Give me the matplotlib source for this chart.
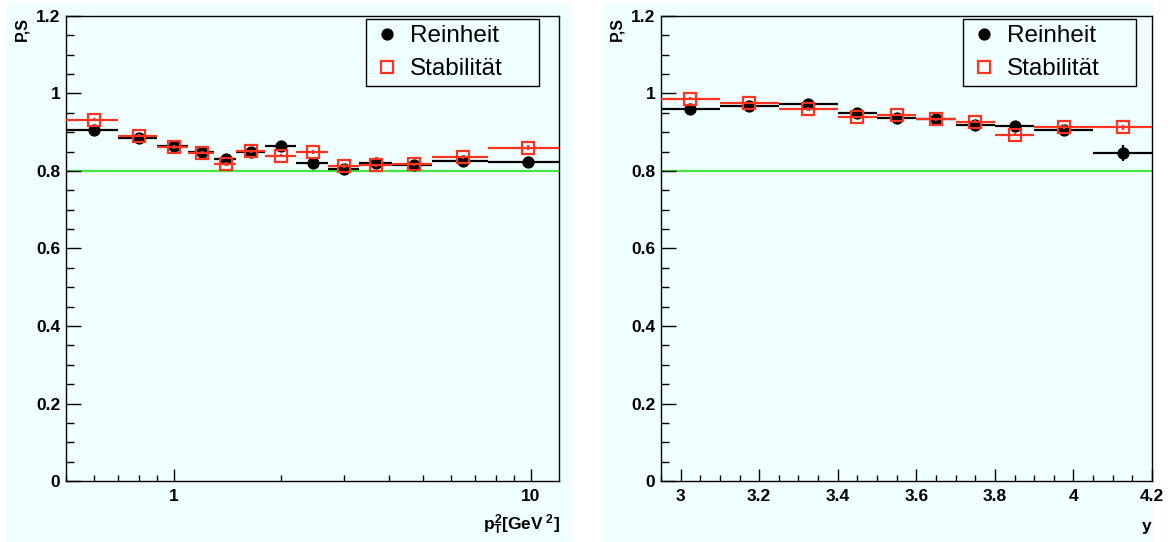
import numpy as np
import matplotlib
matplotlib.use("Agg")
from matplotlib import pyplot as plt
from matplotlib.patches import Rectangle
from matplotlib.lines import Line2D
from matplotlib.ticker import FixedLocator, FormatStrFormatter, MultipleLocator, NullFormatter

plt.rcParams['font.family'] = ['Liberation Sans', 'DejaVu Sans']
plt.rcParams['mathtext.fontset'] = 'custom'
plt.rcParams['mathtext.rm'] = 'Liberation Sans:bold'
plt.rcParams['mathtext.bf'] = 'Liberation Sans:bold'
plt.rcParams['mathtext.it'] = 'Liberation Sans:bold'

# data: purity (Reinheit) and stability (Stabilitaet) per bin
pt2_edges = [0.5, 0.7, 0.9, 1.1, 1.3, 1.5, 1.8, 2.2, 2.7, 3.3, 4.1, 5.3, 7.6, 12.0]
pt2_reinheit = [0.907, 0.885, 0.865, 0.848, 0.831, 0.848, 0.864, 0.821, 0.805, 0.821, 0.815, 0.827, 0.824]
pt2_reinheit_err = [0.004, 0.004, 0.004, 0.004, 0.004, 0.004, 0.004, 0.004, 0.004, 0.004, 0.004, 0.005, 0.006]
pt2_stabil = [0.932, 0.891, 0.862, 0.847, 0.818, 0.851, 0.840, 0.849, 0.813, 0.815, 0.817, 0.835, 0.860]
pt2_stabil_err = [0.004, 0.004, 0.004, 0.004, 0.004, 0.004, 0.004, 0.004, 0.004, 0.004, 0.004, 0.005, 0.006]

y_edges = [2.95, 3.1, 3.25, 3.4, 3.5, 3.6, 3.7, 3.8, 3.9, 4.05, 4.2]
y_reinheit = [0.960, 0.967, 0.974, 0.949, 0.937, 0.935, 0.920, 0.917, 0.906, 0.846]
y_reinheit_err = [0.003, 0.003, 0.003, 0.003, 0.003, 0.003, 0.004, 0.004, 0.005, 0.020]
y_stabil = [0.987, 0.975, 0.961, 0.939, 0.944, 0.933, 0.927, 0.894, 0.913, 0.913]
y_stabil_err = [0.003, 0.003, 0.003, 0.003, 0.003, 0.003, 0.004, 0.004, 0.005, 0.006]

threshold = 0.8

bg = '#f0ffff'
red = '#ff3322'
green = '#40e840'

W, H = 1175, 542
fig = plt.figure(figsize=(W / 100, H / 100), dpi=100, facecolor='white')

# the two pads
fig.patches.append(Rectangle((6 / W, 0), 566 / W, 539 / H, transform=fig.transFigure,
                             facecolor=bg, edgecolor='none', zorder=-10))
fig.patches.append(Rectangle((603 / W, 0), 550 / W, 539 / H, transform=fig.transFigure,
                             facecolor=bg, edgecolor='none', zorder=-10))


def px_axes(x0, x1):
    return [x0 / W, (H - 481) / H, (x1 - x0) / W, (481 - 16) / H]


def draw_panel(ax, edges, reinheit, r_err, stabil, s_err, log):
    edges = np.array(edges)
    lo, hi = edges[:-1], edges[1:]
    xc = (lo + hi) / 2
    ax.set_facecolor(bg)
    ax.axhline(threshold, color=green, lw=1.6, zorder=1)
    ax.errorbar(xc, reinheit, xerr=[xc - lo, hi - xc], yerr=r_err, fmt='o', color='black',
                ms=7.8, elinewidth=1.6, capsize=0, zorder=3)
    ax.errorbar(xc, stabil, xerr=[xc - lo, hi - xc], yerr=s_err, fmt='s', color=red,
                mfc='none', mec=red, ms=9.3, mew=1.6, elinewidth=1.6, capsize=0, zorder=4)
    if log:
        ax.set_xscale('log')
    ax.set_xlim(edges[0], edges[-1])
    ax.set_ylim(0, 1.2)
    ax.yaxis.set_major_locator(MultipleLocator(0.2))
    ax.yaxis.set_minor_locator(MultipleLocator(0.05))
    ax.yaxis.set_major_formatter(FormatStrFormatter('%g'))
    ax.tick_params(which='both', direction='in', top=False, right=False,
                   labelsize=12.5)
    ax.tick_params(axis='y', which='major', length=11, width=1, pad=4)
    ax.tick_params(axis='y', which='minor', length=5.5, width=1)
    ax.tick_params(axis='x', which='major', length=9, width=1, pad=6)
    ax.tick_params(axis='x', which='minor', length=4, width=1)
    for sp in ax.spines.values():
        sp.set_linewidth(1)
    handles = [Line2D([], [], ls='none', marker='o', color='black', ms=7.8),
               Line2D([], [], ls='none', marker='s', mfc='none', mec=red, ms=9.3, mew=1.6)]
    return handles


ax1 = fig.add_axes(px_axes(66, 559))
h = draw_panel(ax1, pt2_edges, pt2_reinheit, pt2_reinheit_err, pt2_stabil, pt2_stabil_err, True)
ax1.xaxis.set_major_locator(FixedLocator([1, 10]))
ax1.xaxis.set_major_formatter(FormatStrFormatter('%g'))
ax1.xaxis.set_minor_locator(FixedLocator([0.5, 0.6, 0.7, 0.8, 0.9, 2, 3, 4, 5, 6, 7, 8, 9]))
ax1.xaxis.set_minor_formatter(NullFormatter())

ax2 = fig.add_axes(px_axes(661, 1152))
draw_panel(ax2, y_edges, y_reinheit, y_reinheit_err, y_stabil, y_stabil_err, False)
ax2.xaxis.set_major_locator(FixedLocator([3.0, 3.2, 3.4, 3.6, 3.8, 4.0, 4.2]))
ax2.xaxis.set_minor_locator(MultipleLocator(0.05))
ax2.xaxis.set_major_formatter(FormatStrFormatter('%g'))

for ax in (ax1, ax2):
    for lab in ax.get_xticklabels() + ax.get_yticklabels():
        lab.set_fontweight('bold')

for ax, (lx0, lx1) in [(ax1, (366, 539)), (ax2, (963, 1136))]:
    leg = ax.legend(h, ['Reinheit', 'Stabilität'], loc='upper left',
                    bbox_to_anchor=(lx0 / W, 1 - 19 / H, (lx1 - lx0) / W, 0),
                    bbox_transform=fig.transFigure, mode='expand', fontsize=17.5,
                    frameon=True, fancybox=False, facecolor=bg, edgecolor='black',
                    framealpha=1, borderpad=0.25, labelspacing=0.45,
                    handlelength=1.25, handletextpad=0.3, borderaxespad=0)
    leg.get_frame().set_linewidth(1)

# axis titles
fig.text(22 / W, 1 - 17 / H, 'P,S', rotation=90, ha='center', va='top',
         fontsize=11.5, fontweight='bold')
fig.text(617 / W, 1 - 17 / H, 'P,S', rotation=90, ha='center', va='top',
         fontsize=11.5, fontweight='bold')
fig.text(560 / W, 1 - 525 / H, r'$p_T^2$[GeV$^{\ 2}$]', ha='right', va='center',
         fontsize=12.5, fontweight='bold')
fig.text(1147 / W, 1 - 527 / H, 'y', ha='center', va='center',
         fontsize=12.5, fontweight='bold')

fig.savefig('out.png', dpi=100, facecolor='white')
